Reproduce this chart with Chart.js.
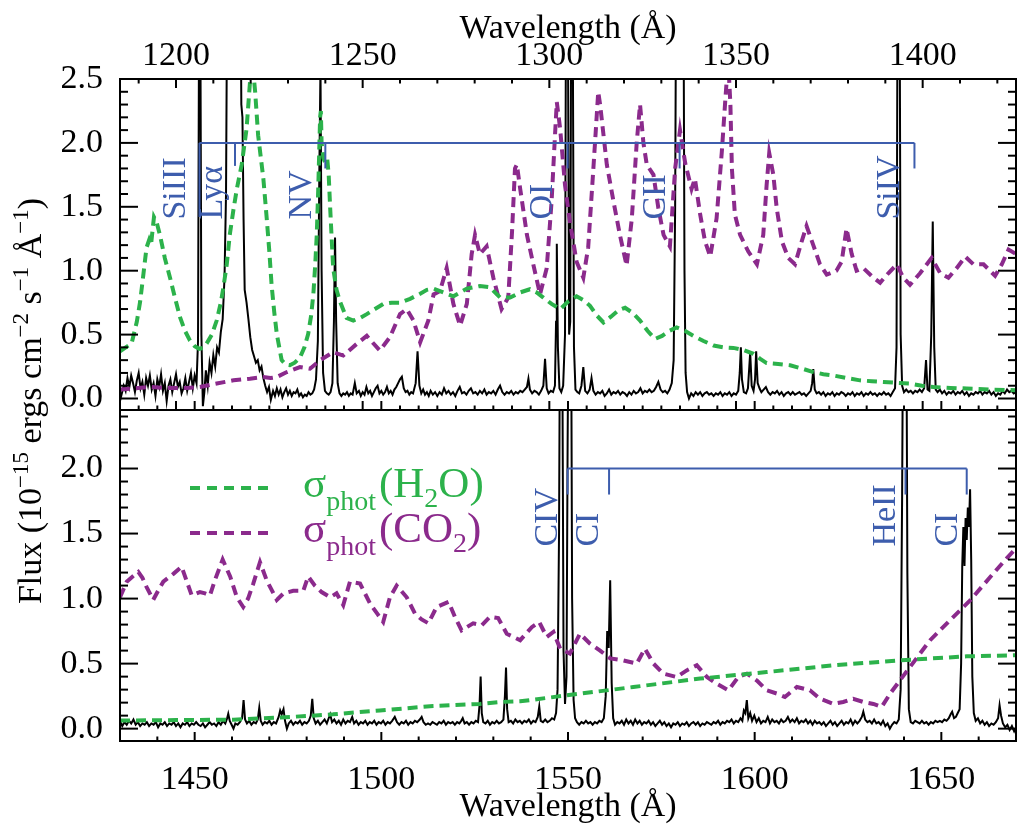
<!DOCTYPE html>
<html><head><meta charset="utf-8">
<script src="https://cdn.jsdelivr.net/npm/chart.js@4"></script>
<style>html,body{margin:0;padding:0;background:#fff;}canvas{display:block;}</style>
</head><body>
<canvas id="c" width="1024" height="836"></canvas>
<script>
// ---------------- DATA ----------------
const topTickLabels = [1200, 1250, 1300, 1350, 1400];
const botTickLabels = [1450, 1500, 1550, 1600, 1650];
const topFluxTicks = [0, 0.5, 1, 1.5, 2, 2.5];
const botFluxTicks = [0, 0.5, 1, 1.5, 2];

// observed flux, upper panel [wavelength, flux]
const topSpectrum = [
[1185.0,-0.02],[1185.5,0.04],[1186.0,0.10],[1186.5,0.06],[1187.0,0.16],[1187.5,0.09],[1188.0,0.18],[1188.5,0.12],[1189.0,0.05],[1189.5,0.14],
[1190.0,0.20],[1190.5,0.08],[1191.0,0.13],[1191.5,0.03],[1192.0,0.16],[1192.5,0.10],[1193.0,0.18],[1193.5,0.07],[1194.0,0.12],[1194.5,0.02],
[1195.0,0.15],[1195.5,0.09],[1196.0,0.19],[1196.5,0.06],[1197.0,0.12],[1197.5,-0.02],[1198.0,0.10],[1198.5,0.15],[1199.0,0.05],[1199.5,0.12],
[1200.0,0.19],[1200.5,0.09],[1201.0,0.13],[1201.5,0.04],[1202.0,0.08],[1202.5,0.16],[1203.0,0.06],[1203.5,0.13],[1204.0,0.20],[1204.5,0.08],
[1205.0,0.18],[1205.5,0.12],[1205.9,0.45],[1206.2,3.2],[1206.5,3.2],[1206.8,0.5],[1207.2,-0.06],[1207.6,0.05],[1208.0,0.22],[1208.5,0.10],
[1209.0,0.28],[1209.5,0.20],[1210.0,0.34],[1210.5,0.25],[1211.0,0.40],[1211.5,0.36],[1212.0,0.52],[1212.5,0.62],[1213.0,0.95],[1213.4,1.6],
[1213.7,3.2],[1217.3,3.2],[1217.5,2.3],[1217.8,2.2],[1218.1,1.4],[1218.4,0.85],[1218.9,0.75],[1219.4,0.62],[1219.9,0.48],[1220.4,0.38],
[1220.9,0.33],[1221.4,0.28],[1221.9,0.30],[1222.4,0.22],[1222.9,0.25],[1223.4,0.16],[1223.9,0.10],[1224.4,0.05],[1224.9,0.09],[1225.4,-0.01],
[1226.0,0.06],[1226.5,0.02],[1227.0,0.08],[1227.5,0.03],[1228.0,0.07],[1228.5,0.01],[1229.0,0.05],[1229.5,0.08],[1230.0,0.03],[1230.5,0.06],
[1231.0,0.02],[1231.5,0.05],[1232.0,0.04],[1232.5,0.07],[1233.0,0.02],[1233.5,0.04],[1234.0,0.01],[1234.5,0.03],[1235.0,0.02],[1235.5,0.05],
[1236.0,0.03],[1236.5,0.04],[1237.0,0.07],[1237.5,0.15],[1238.0,0.45],[1238.4,1.8],[1238.7,2.6],[1239.0,1.0],[1239.4,0.2],[1239.9,0.06],
[1240.4,0.04],[1240.9,0.03],[1241.4,0.05],[1241.9,0.12],[1242.3,0.6],[1242.6,1.26],[1242.9,0.6],[1243.3,0.12],[1243.8,0.04],[1244.3,0.02],
[1244.8,0.04],[1245.3,0.03],[1245.8,0.05],[1246.3,0.02],[1246.8,0.04],[1247.3,0.03],[1247.9,0.12],[1248.4,0.04],[1249.0,0.06],[1249.5,0.02],
[1250.0,0.05],[1250.5,0.03],[1251.0,0.09],[1251.5,0.04],[1252.0,0.06],[1252.5,0.02],[1253.0,0.05],[1253.5,0.08],[1254.0,0.10],[1254.5,0.04],
[1255.0,0.06],[1255.5,0.03],[1256.0,0.05],[1256.5,0.09],[1257.0,0.04],[1257.5,0.06],[1258.0,0.03],[1258.5,0.07],[1259.0,0.09],[1259.5,0.12],
[1260.0,0.15],[1260.5,0.17],[1261.0,0.08],[1261.5,0.05],[1262.0,0.06],[1262.5,0.03],[1263.0,0.05],[1263.5,0.04],[1264.2,0.12],[1264.7,0.37],
[1265.2,0.10],[1265.7,0.04],[1266.2,0.07],[1266.7,0.03],[1267.2,0.05],[1267.7,0.02],[1268.2,0.06],[1268.8,0.03],[1269.4,0.05],[1270.0,0.02],
[1270.6,0.05],[1271.2,0.03],[1271.8,0.08],[1272.4,0.04],[1273.0,0.06],[1273.6,0.03],[1274.2,0.05],[1274.8,0.02],[1275.4,0.06],[1276.0,0.09],
[1276.6,0.04],[1277.2,0.05],[1277.8,0.03],[1278.4,0.06],[1279.0,0.08],[1279.6,0.04],[1280.2,0.05],[1280.8,0.03],[1281.4,0.06],[1282.0,0.04],
[1282.6,0.07],[1283.2,0.03],[1283.8,0.05],[1284.4,0.04],[1285.0,0.06],[1285.6,0.03],[1286.2,0.07],[1286.8,0.10],[1287.4,0.05],[1288.0,0.03],
[1288.6,0.05],[1289.2,0.04],[1289.8,0.06],[1290.4,0.03],[1291.0,0.05],[1291.6,0.04],[1292.2,0.06],[1292.8,0.05],[1293.4,0.07],[1294.0,0.09],
[1294.4,0.155],[1294.8,0.07],[1295.4,0.04],[1296.0,0.06],[1296.6,0.05],[1297.2,0.03],[1297.8,0.06],[1298.4,0.10],[1298.85,0.31],[1299.3,0.08],
[1299.8,0.04],[1300.4,0.06],[1301.0,0.05],[1301.5,0.10],[1301.8,0.6],[1302.0,1.21],[1302.3,0.4],[1302.7,0.08],[1303.2,0.05],[1303.7,0.1],
[1304.2,0.5],[1304.5,3.5],[1304.9,3.5],[1305.3,0.5],[1305.6,0.6],[1305.9,3.5],[1306.2,3.5],[1306.6,0.4],[1307.0,0.07],[1307.5,0.05],
[1308.0,0.04],[1308.6,0.1],[1309.1,0.245],[1309.6,0.06],[1310.2,0.04],[1310.8,0.07],[1311.3,0.16],[1311.8,0.06],[1312.4,0.03],[1313.0,0.05],
[1313.6,0.04],[1314.2,0.06],[1314.8,0.02],[1315.4,0.04],[1316.0,0.07],[1316.6,0.03],[1317.2,0.05],[1317.8,0.04],[1318.4,0.06],[1319.0,0.03],
[1319.6,0.05],[1320.2,0.04],[1320.8,0.02],[1321.4,0.05],[1322.0,0.03],[1322.6,0.06],[1323.2,0.04],[1323.8,0.05],[1324.4,0.08],[1325.0,0.04],
[1325.6,0.06],[1326.2,0.05],[1326.8,0.07],[1327.4,0.05],[1328.0,0.06],[1328.6,0.09],[1329.2,0.13],[1329.8,0.07],[1330.4,0.05],[1331.0,0.06],
[1331.6,0.04],[1332.2,0.07],[1332.8,0.12],[1333.3,0.3],[1333.7,1.5],[1334.0,3.5],[1335.9,3.5],[1336.2,1.0],[1336.5,0.2],[1336.9,0.05],
[1337.4,0.0],[1338.0,0.04],[1338.6,0.02],[1339.2,0.05],[1339.8,0.03],[1340.4,0.05],[1341.0,0.02],[1341.6,0.04],[1342.2,0.05],[1342.8,0.03],
[1343.4,0.04],[1344.0,0.02],[1344.6,0.04],[1345.2,0.03],[1345.8,0.05],[1346.4,0.02],[1347.0,0.04],[1347.6,0.03],[1348.2,0.05],[1348.8,0.02],
[1349.4,0.04],[1350.0,0.03],[1350.6,0.06],[1351.0,0.2],[1351.3,0.40],[1351.6,0.15],[1352.1,0.05],[1352.7,0.04],[1353.2,0.08],[1353.8,0.36],
[1354.2,0.1],[1354.7,0.06],[1355.1,0.15],[1355.4,0.37],[1355.8,0.12],[1356.3,0.08],[1356.8,0.05],[1357.4,0.07],[1358.0,0.09],[1358.6,0.05],
[1359.2,0.03],[1359.8,0.05],[1360.4,0.04],[1361.0,0.06],[1361.6,0.03],[1362.2,0.05],[1362.8,0.02],[1363.4,0.04],[1364.0,0.05],[1364.6,0.03],
[1365.2,0.05],[1365.8,0.03],[1366.4,0.04],[1367.0,0.05],[1367.6,0.03],[1368.2,0.04],[1368.8,0.02],[1369.4,0.04],[1370.0,0.06],[1370.4,0.12],
[1370.7,0.23],[1371.1,0.07],[1371.6,0.04],[1372.2,0.05],[1372.8,0.03],[1373.4,0.05],[1374.0,0.02],[1374.6,0.04],[1375.2,0.03],[1375.8,0.05],
[1376.4,0.02],[1377.0,0.04],[1377.6,0.03],[1378.2,0.05],[1378.8,0.04],[1379.4,0.02],[1380.0,0.04],[1380.6,0.03],[1381.2,0.05],[1381.8,0.02],
[1382.4,0.04],[1383.0,0.03],[1383.6,0.05],[1384.2,0.02],[1384.8,0.04],[1385.4,0.03],[1386.0,0.05],[1386.6,0.03],[1387.2,0.04],[1387.8,0.02],
[1388.4,0.04],[1389.0,0.03],[1389.6,0.05],[1390.2,0.03],[1390.8,0.04],[1391.4,0.02],[1392.0,0.05],[1392.6,0.08],[1393.0,0.4],[1393.3,3.5],
[1393.8,3.5],[1394.1,0.5],[1394.5,0.1],[1395.0,0.05],[1395.6,0.07],[1396.2,0.05],[1396.8,0.06],[1397.4,0.04],[1398.0,0.06],[1398.6,0.05],
[1399.2,0.07],[1399.8,0.05],[1400.4,0.08],[1400.9,0.30],[1401.3,0.07],[1401.8,0.06],[1402.3,0.5],[1402.7,1.385],[1403.1,0.4],[1403.5,0.07],
[1404.0,0.05],[1404.6,0.07],[1405.2,0.04],[1405.8,0.06],[1406.4,0.03],[1407.0,0.05],[1407.6,0.04],[1408.2,0.06],[1408.8,0.03],[1409.4,0.05],
[1410.0,0.04],[1410.6,0.06],[1411.2,0.03],[1411.8,0.05],[1412.4,0.02],[1413.0,0.04],[1413.6,0.03],[1414.2,0.05],[1414.8,0.04],[1415.4,0.06],
[1416.0,0.03],[1416.6,0.05],[1417.2,0.04],[1417.8,0.06],[1418.4,0.03],[1419.0,0.05],[1419.6,0.02],[1420.2,0.04],[1420.8,0.03],[1421.4,0.06],
[1422.0,0.04],[1422.6,0.07],[1423.2,0.05],[1423.8,0.06],[1424.4,0.04],[1425.0,0.05]
];

// H2O photo cross-section (scaled), upper panel
const topH2O = [
[1185,0.37],[1188.1,0.43],[1189.5,0.6],[1190.4,0.76],[1191.3,0.98],[1192.1,1.18],[1192.8,1.24],[1193.3,1.2],[1194.1,1.42],[1194.8,1.38],
[1195.7,1.28],[1197.0,1.1],[1198.4,0.945],[1199.8,0.78],[1201.1,0.634],[1202.4,0.53],[1203.75,0.453],[1205.0,0.41],[1206.2,0.389],[1207.2,0.395],
[1208.2,0.43],[1209.6,0.5],[1210.9,0.61],[1212.0,0.75],[1212.7,0.87],[1213.6,1.05],[1214.4,1.28],[1215.4,1.48],[1216.3,1.64],[1217.6,1.83],
[1218.9,2.11],[1219.8,2.47],[1220.5,2.62],[1221.2,2.4],[1222.0,2.06],[1223.4,1.72],[1224.3,1.41],[1225.0,1.15],[1225.6,0.89],[1226.3,0.68],
[1227.0,0.505],[1228.3,0.3],[1229.4,0.265],[1230.5,0.26],[1231.8,0.28],[1233.2,0.32],[1234.4,0.4],[1235.4,0.505],[1236.2,0.65],[1236.8,0.82],
[1237.3,1.05],[1237.7,1.28],[1238.1,1.64],[1238.6,2.2],[1238.8,2.25],[1239.0,2.0],[1239.5,1.88],[1239.9,1.85],[1240.5,1.88],[1240.9,1.75],
[1241.3,1.49],[1241.7,1.25],[1242.1,1.02],[1243.0,0.85],[1243.9,0.76],[1245.7,0.63],[1247.5,0.61],[1249.3,0.63],[1251.1,0.66],[1253.3,0.7],
[1255.5,0.74],[1257.8,0.75],[1260.0,0.75],[1262.7,0.78],[1265.4,0.82],[1267.2,0.85],[1269.0,0.86],[1271.6,0.83],[1274.3,0.80],[1276.1,0.83],
[1277.9,0.86],[1281.4,0.88],[1284.1,0.87],[1286.8,0.79],[1289.5,0.79],[1292.2,0.83],[1294.8,0.855],[1296.6,0.83],[1298.4,0.79],[1300.6,0.74],
[1302.9,0.70],[1305.1,0.76],[1307.3,0.80],[1309.1,0.77],[1310.9,0.725],[1312.7,0.65],[1314.5,0.595],[1316.5,0.64],[1318.5,0.69],[1320.3,0.71],
[1322.3,0.67],[1324.3,0.61],[1326.3,0.53],[1328.3,0.466],[1330.2,0.49],[1332.2,0.53],[1334.1,0.556],[1336.3,0.53],[1338.6,0.49],[1341.3,0.45],
[1344.0,0.414],[1346.7,0.40],[1349.3,0.396],[1352.0,0.38],[1354.7,0.35],[1356.5,0.31],[1358.2,0.277],[1361.3,0.27],[1364.5,0.26],[1367.6,0.235],
[1370.7,0.207],[1373.4,0.19],[1376.1,0.18],[1379.6,0.16],[1383.2,0.142],[1386.4,0.135],[1389.5,0.129],[1393.0,0.123],[1396.6,0.117],[1399.8,0.10],
[1402.9,0.09],[1407.4,0.083],[1411.8,0.078],[1418.4,0.07],[1425,0.065]
];

// CO2 photo cross-section (scaled), upper panel
const topCO2 = [
[1185,0.07],[1188.6,0.078],[1193,0.09],[1197.5,0.082],[1202.8,0.082],[1206.4,0.09],[1210.9,0.117],[1215.4,0.142],[1219.8,0.155],[1223.4,0.168],
[1225.3,0.16],[1227.0,0.168],[1229.7,0.207],[1233.2,0.246],[1235.9,0.233],[1238.6,0.30],[1242.1,0.362],[1244.8,0.336],[1248.4,0.427],[1251.1,0.49],
[1252.9,0.43],[1254.6,0.375],[1257.3,0.48],[1260.0,0.66],[1261.8,0.70],[1263.6,0.61],[1265.4,0.44],[1267.6,0.61],[1269.0,0.815],[1270.7,0.84],
[1272.5,1.02],[1274.3,0.74],[1276.1,0.57],[1277.9,0.74],[1279.2,1.13],[1280.1,1.28],[1281.4,1.13],[1283.2,1.19],[1285.0,0.945],[1287.2,0.70],
[1289.0,0.79],[1290.0,1.3],[1290.8,1.80],[1291.3,1.83],[1292.2,1.64],[1294.0,1.28],[1295.7,1.05],[1297.5,0.815],[1299.3,1.02],[1300.6,1.54],
[1301.5,2.05],[1302.0,2.32],[1302.9,2.11],[1304.2,1.67],[1305.5,1.385],[1307.3,1.07],[1309.1,0.945],[1310.4,1.18],[1311.8,1.80],[1313.1,2.40],
[1313.6,2.30],[1315.4,1.83],[1317.2,1.54],[1318.9,1.28],[1320.7,1.04],[1322.1,1.41],[1323.4,2.0],[1324.3,2.30],[1325.2,2.0],[1326.1,1.83],
[1327.9,1.75],[1329.2,1.49],[1330.6,1.28],[1332.3,1.19],[1333.7,1.80],[1335.0,2.10],[1336.4,1.84],[1338.1,1.64],[1339.0,1.72],[1340.4,1.44],
[1341.7,1.23],[1343.1,1.11],[1344.8,1.41],[1346.2,1.93],[1347.1,2.32],[1347.9,2.65],[1348.5,2.3],[1348.9,1.80],[1349.7,1.44],[1351.1,1.28],
[1353.3,1.15],[1355.6,1.05],[1357.3,1.28],[1358.2,1.67],[1358.9,1.92],[1360.0,1.75],[1360.9,1.49],[1362.3,1.23],[1364.0,1.10],[1365.8,1.05],
[1367.6,1.23],[1368.9,1.35],[1370.7,1.20],[1372.5,1.05],[1374.3,0.97],[1376.9,1.0],[1378.3,1.07],[1379.6,1.33],[1381.0,1.13],[1382.3,1.0],
[1384.1,1.02],[1386.8,0.945],[1388.6,0.906],[1390.8,0.98],[1393.1,1.05],[1394.8,0.945],[1396.6,0.89],[1399.3,0.98],[1402.4,1.10],[1404.7,0.98],
[1406.9,0.945],[1409.1,1.02],[1411.4,1.11],[1413.6,1.05],[1416.3,1.05],[1419.4,0.96],[1421.2,1.05],[1423.0,1.165],[1425,1.13]
];

// observed flux, lower panel
const botSpectrum = [
[1430.0,0.06],[1430.6,0.02],[1431.2,0.05],[1431.8,0.03],[1432.4,0.06],[1433.0,0.04],[1433.6,0.07],[1434.2,0.03],[1434.8,0.05],[1435.4,0.02],
[1436.0,0.04],[1436.6,0.03],[1437.2,0.05],[1437.8,0.02],[1438.4,0.04],[1439.0,0.03],[1439.6,0.05],[1440.2,0.01],[1440.8,0.04],[1441.4,0.03],
[1442.0,0.05],[1442.6,0.02],[1443.2,0.04],[1443.8,0.03],[1444.4,0.05],[1445.0,0.02],[1445.6,0.04],[1446.2,0.01],[1446.8,0.04],[1447.4,0.03],
[1448.0,0.05],[1448.6,0.02],[1449.2,0.04],[1449.8,0.03],[1450.4,0.05],[1451.0,0.03],[1451.6,0.02],[1452.2,0.04],[1452.8,0.01],[1453.4,0.03],
[1454.0,0.05],[1454.6,0.03],[1455.2,0.04],[1455.8,0.02],[1456.4,0.05],[1457.0,0.03],[1457.6,0.06],[1458.2,0.04],[1458.7,0.08],[1459.0,0.115],
[1459.4,0.06],[1459.9,0.03],[1460.4,0.0],[1460.9,0.04],[1461.5,0.03],[1462.1,0.05],[1462.7,0.08],[1463.1,0.22],[1463.5,0.07],[1464.0,0.04],
[1464.6,0.06],[1465.2,0.03],[1465.8,0.05],[1466.4,0.04],[1466.9,0.07],[1467.3,0.16],[1467.7,0.06],[1468.2,0.03],[1468.8,0.05],[1469.4,0.04],
[1470.0,0.06],[1470.6,0.03],[1471.2,0.05],[1471.8,0.04],[1472.5,0.09],[1472.9,0.14],[1473.3,0.11],[1473.8,0.15],[1474.2,0.06],[1474.7,0.0],
[1475.2,0.04],[1475.8,0.06],[1476.4,0.03],[1477.0,0.05],[1477.6,0.04],[1478.2,0.06],[1478.8,0.03],[1479.4,0.05],[1480.0,0.04],[1480.6,0.06],
[1481.1,0.10],[1481.5,0.23],[1481.9,0.08],[1482.4,0.04],[1483.0,0.06],[1483.6,0.03],[1484.2,0.05],[1484.8,0.07],[1485.4,0.04],[1485.9,0.08],
[1486.3,0.11],[1486.8,0.05],[1487.4,0.07],[1488.0,0.04],[1488.6,0.06],[1489.2,0.03],[1489.8,0.07],[1490.4,0.04],[1491.0,0.06],[1491.6,0.05],
[1492.2,0.09],[1492.7,0.04],[1493.3,0.06],[1493.9,0.03],[1494.5,0.05],[1495.1,0.04],[1495.7,0.06],[1496.3,0.03],[1496.9,0.05],[1497.5,0.04],
[1498.1,0.06],[1498.7,0.03],[1499.3,0.05],[1499.9,0.04],[1500.5,0.06],[1501.1,0.03],[1501.7,0.05],[1502.3,0.04],[1502.9,0.06],[1503.6,0.09],
[1504.2,0.05],[1504.8,0.03],[1505.4,0.05],[1506.0,0.04],[1506.6,0.06],[1507.2,0.03],[1507.8,0.05],[1508.4,0.04],[1509.0,0.06],[1509.6,0.05],
[1510.3,0.07],[1510.8,0.09],[1511.3,0.05],[1511.9,0.03],[1512.5,0.04],[1513.1,0.03],[1513.7,0.05],[1514.3,0.04],[1514.9,0.03],[1515.5,0.05],
[1516.1,0.04],[1516.7,0.06],[1517.3,0.03],[1517.9,0.05],[1518.5,0.04],[1519.1,0.05],[1519.7,0.03],[1520.3,0.05],[1520.9,0.04],[1521.4,0.06],
[1521.8,0.08],[1522.3,0.04],[1522.9,0.05],[1523.5,0.03],[1524.1,0.05],[1524.7,0.04],[1525.3,0.06],[1525.9,0.05],[1526.3,0.18],[1526.6,0.40],
[1526.9,0.12],[1527.3,0.05],[1527.9,0.04],[1528.5,0.06],[1529.1,0.03],[1529.7,0.05],[1530.3,0.04],[1530.9,0.06],[1531.5,0.04],[1532.1,0.05],
[1532.7,0.07],[1533.1,0.25],[1533.4,0.47],[1533.7,0.15],[1534.1,0.05],[1534.7,0.06],[1535.3,0.04],[1535.9,0.07],[1536.5,0.05],[1537.1,0.06],
[1537.7,0.04],[1538.3,0.06],[1538.9,0.05],[1539.5,0.07],[1540.1,0.04],[1540.7,0.06],[1541.3,0.05],[1541.9,0.09],[1542.3,0.17],[1542.7,0.06],
[1543.3,0.05],[1543.9,0.07],[1544.5,0.05],[1545.1,0.06],[1545.7,0.08],[1546.3,0.07],[1546.8,0.12],[1547.2,0.3],[1547.6,1.5],[1547.9,3.5],
[1548.4,3.5],[1548.8,0.6],[1549.2,0.19],[1549.6,0.4],[1549.9,2.2],[1550.2,3.5],[1550.8,3.5],[1551.1,1.0],[1551.5,0.22],[1551.9,0.08],
[1552.4,0.05],[1553.0,0.03],[1553.6,0.05],[1554.2,0.04],[1554.8,0.06],[1555.4,0.04],[1556.0,0.05],[1556.6,0.03],[1557.2,0.05],[1557.8,0.04],
[1558.4,0.06],[1559.0,0.05],[1559.6,0.08],[1560.1,0.25],[1560.5,0.75],[1560.9,0.62],[1561.3,1.14],[1561.7,0.35],[1562.1,0.08],[1562.6,0.03],
[1563.2,0.05],[1563.8,0.04],[1564.4,0.06],[1565.0,0.03],[1565.6,0.07],[1566.2,0.04],[1566.8,0.06],[1567.4,0.03],[1568.0,0.07],[1568.6,0.04],
[1569.2,0.06],[1569.8,0.03],[1570.4,0.05],[1571.0,0.04],[1571.6,0.06],[1572.2,0.03],[1572.8,0.05],[1573.4,0.02],[1574.0,0.04],[1574.6,0.06],
[1575.2,0.03],[1575.8,0.05],[1576.4,0.02],[1577.0,0.04],[1577.6,0.01],[1578.2,0.04],[1578.8,0.03],[1579.4,0.05],[1580.0,0.02],[1580.6,0.04],
[1581.2,0.03],[1581.8,0.05],[1582.4,0.02],[1583.0,0.04],[1583.6,0.05],[1584.2,0.03],[1584.8,0.05],[1585.4,0.02],[1586.0,0.04],[1586.6,0.03],
[1587.2,0.05],[1587.8,0.04],[1588.4,0.03],[1589.0,0.05],[1589.6,0.04],[1590.2,0.06],[1590.8,0.03],[1591.4,0.05],[1592.0,0.04],[1592.6,0.06],
[1593.2,0.05],[1593.8,0.07],[1594.4,0.04],[1595.0,0.06],[1595.6,0.05],[1596.2,0.08],[1596.7,0.06],[1597.1,0.14],[1597.5,0.12],[1597.9,0.22],
[1598.3,0.08],[1598.8,0.12],[1599.3,0.06],[1599.9,0.10],[1600.5,0.05],[1601.1,0.08],[1601.7,0.04],[1602.3,0.06],[1602.9,0.05],[1603.5,0.09],
[1604.1,0.04],[1604.7,0.07],[1605.3,0.05],[1605.9,0.06],[1606.5,0.04],[1607.1,0.07],[1607.7,0.05],[1608.3,0.06],[1608.9,0.09],[1609.5,0.05],
[1610.1,0.07],[1610.7,0.05],[1611.3,0.08],[1611.9,0.04],[1612.5,0.06],[1613.1,0.05],[1613.7,0.07],[1614.3,0.04],[1614.9,0.06],[1615.5,0.03],
[1616.1,0.06],[1616.7,0.04],[1617.3,0.05],[1617.9,0.03],[1618.5,0.05],[1619.1,0.02],[1619.7,0.04],[1620.3,0.06],[1620.9,0.03],[1621.5,0.05],
[1622.1,0.02],[1622.7,0.04],[1623.3,0.06],[1623.9,0.03],[1624.5,0.05],[1625.1,0.04],[1625.7,0.07],[1626.3,0.03],[1626.9,0.06],[1627.5,0.04],
[1628.1,0.06],[1628.7,0.09],[1629.1,0.13],[1629.6,0.07],[1630.2,0.05],[1630.8,0.06],[1631.4,0.04],[1632.0,0.07],[1632.6,0.04],[1633.2,0.05],
[1633.8,0.03],[1634.4,0.06],[1635.0,0.02],[1635.6,0.04],[1636.2,0.0],[1636.8,0.03],[1637.4,0.05],[1638.0,0.04],[1638.6,0.07],[1639.1,0.3],
[1639.5,1.8],[1639.8,3.5],[1640.6,3.5],[1640.9,1.2],[1641.3,0.15],[1641.8,0.05],[1642.4,0.04],[1643.0,0.06],[1643.6,0.05],[1644.2,0.04],
[1644.8,0.06],[1645.4,0.04],[1646.0,0.05],[1646.6,0.03],[1647.2,0.05],[1647.8,0.04],[1648.4,0.06],[1649.0,0.05],[1649.6,0.06],[1650.2,0.05],
[1650.8,0.07],[1651.4,0.06],[1652.0,0.08],[1652.5,0.11],[1652.9,0.13],[1653.4,0.08],[1653.9,0.09],[1654.4,0.12],[1654.9,0.15],[1655.3,0.5],
[1655.6,1.25],[1655.9,1.55],[1656.2,1.25],[1656.5,1.62],[1656.8,1.45],[1657.1,1.7],[1657.4,1.55],[1657.7,1.84],[1658.0,1.3],[1658.3,0.4],
[1658.7,0.12],[1659.2,0.06],[1659.8,0.08],[1660.4,0.04],[1661.0,0.06],[1661.6,0.03],[1662.2,0.05],[1662.8,0.02],[1663.4,0.04],[1664.0,0.03],
[1664.6,0.05],[1665.2,0.08],[1665.6,0.18],[1666.0,0.1],[1666.5,0.04],[1667.1,0.01],[1667.7,0.03],[1668.3,-0.01],[1668.9,0.02],[1669.5,-0.02],[1670.0,0.01]
];

const botH2O = [
[1430,0.062],[1445,0.066],[1460.4,0.069],[1472.9,0.085],[1487.1,0.11],[1499.6,0.14],[1513.9,0.174],[1526.4,0.19],[1531.8,0.205],[1537.2,0.21],
[1549.7,0.256],[1567.5,0.32],[1585.4,0.385],[1603.2,0.435],[1621.1,0.487],[1638.9,0.525],[1656.8,0.556],[1670,0.564]
];

const botCO2 = [
[1430,1.01],[1431.8,1.13],[1433.4,1.17],[1434.9,1.205],[1436.0,1.16],[1437.1,1.09],[1438.9,0.99],[1440.2,1.06],[1441.6,1.13],[1444.3,1.19],
[1446.5,1.245],[1447.8,1.14],[1449.2,1.025],[1451.4,1.05],[1452.8,1.04],[1454.1,1.025],[1455.4,1.14],[1457.5,1.30],[1459.5,1.17],[1461.3,1.01],
[1463.0,0.935],[1464.3,1.0],[1465.7,1.115],[1467.5,1.28],[1469.3,1.14],[1472.0,0.99],[1473.8,1.04],[1476.4,1.06],[1479.1,1.06],[1480.4,1.17],
[1482.2,1.10],[1484.0,1.05],[1486.3,1.01],[1488.0,1.04],[1489.8,0.95],[1491.6,1.13],[1494.3,1.115],[1497.0,0.96],[1499.0,0.88],[1500.5,0.82],
[1502.3,1.01],[1504.1,1.10],[1506.8,1.01],[1509.0,0.885],[1510.8,0.84],[1512.6,0.81],[1514.8,0.935],[1518.0,0.975],[1519.7,0.86],[1521.5,0.756],
[1524.6,0.81],[1526.9,0.795],[1529.1,0.86],[1531.3,0.85],[1533.6,0.73],[1537.2,0.68],[1540.3,0.78],[1542.3,0.82],[1544.3,0.705],[1546.1,0.743],
[1547.9,0.615],[1550.5,0.577],[1553.2,0.73],[1555.9,0.654],[1558.6,0.60],[1561.3,0.54],[1564.8,0.525],[1568.4,0.50],[1570.6,0.615],[1572.9,0.50],
[1575.5,0.423],[1579.1,0.397],[1581.8,0.448],[1584.5,0.487],[1587.2,0.397],[1589.8,0.346],[1593.0,0.295],[1595.6,0.397],[1597.9,0.423],[1600.6,0.37],
[1603.2,0.295],[1605.9,0.27],[1608.1,0.243],[1611.3,0.32],[1614.8,0.295],[1617.5,0.23],[1621.1,0.19],[1623.7,0.205],[1626.4,0.23],[1629.1,0.205],
[1631.8,0.19],[1634.0,0.166],[1636.3,0.27],[1638.9,0.37],[1641.6,0.474],[1647.0,0.68],[1652.3,0.833],[1657.7,0.986],[1663.1,1.166],[1667.5,1.31],[1670,1.385]
];

// line identifications: [label, label wavelength, marker wavelength, marker bottom]
const topLineIds = [["SiIII",1202.4,1206.3,1.42],["Lyα",1212.3,1215.8,1.82],["NV",1236.2,1240.0,1.8],["OI",1300.7,1304.9,1.8],["CII",1331.0,1334.9,1.8],["SiIV",1393.7,1397.8,1.8]];
const botLineIds = [["CIV",1547.1,1549.9,1.8],["CI",1558.0,1561.0,1.8],["HeII",1637.6,1640.4,1.8],["CI",1654.2,1656.8,1.8]];
const bracketLevel = 2.0;
const labelBase = 1.4;

// ---------------- STYLE ----------------
const FONT = "'Liberation Serif', 'Times New Roman', serif";
const GREEN = '#2cb24b', PURPLE = '#8b2a8c', BLUE = '#3d5dad';

const pts = a => a.map(p => ({x: p[0], y: p[1]}));
const lineDs = (label, data, xa, ya, color, width, dash) => ({
  label, data: pts(data), xAxisID: xa, yAxisID: ya, borderColor: color, borderWidth: width,
  borderDash: dash, pointRadius: 0, tension: 0, fill: false, clip: false, borderCapStyle: 'butt', borderJoinStyle: 'miter'
});

const datasets = [
  lineDs('σphot(H2O)', topH2O, 'xTop', 'yTop', GREEN, 4, [10, 6]),
  lineDs('σphot(CO2)', topCO2, 'xTop', 'yTop', PURPLE, 4, [10, 6]),
  lineDs('Flux', topSpectrum, 'xTop', 'yTop', '#000', 2, []),
  lineDs('σphot(H2O)', botH2O, 'xBot', 'yBot', GREEN, 4, [10, 6]),
  lineDs('σphot(CO2)', botCO2, 'xBot', 'yBot', PURPLE, 4, [10, 6]),
  lineDs('Flux', botSpectrum, 'xBot', 'yBot', '#000', 2, [])
];

const tickFont = {family: FONT, size: 34};
const xScale = (pos, min, max, labels, pad, titlePad, h) => ({
  type: 'linear', position: pos, min, max,
  afterBuildTicks: s => { s.ticks = labels.map(v => ({value: v})); },
  afterFit: s => { s.height = h; },
  ticks: {font: tickFont, color: '#000', padding: pad, maxRotation: 0, autoSkip: false, callback: v => String(v)},
  grid: {display: false}, border: {display: false},
  title: {display: true, text: 'Wavelength (Å)', font: tickFont, color: '#000', padding: titlePad}
});
const yScale = (min, max, labels) => ({
  type: 'linear', position: 'left', stack: 'flux', stackWeight: 1, min, max,
  afterBuildTicks: s => { s.ticks = labels.map(v => ({value: v})); },
  afterFit: s => { s.width = 120; },
  ticks: {font: tickFont, color: '#000', padding: 9, autoSkip: false, callback: v => Number(v).toFixed(1)},
  grid: {display: false}, border: {display: false}
});

// clip every dataset to its own panel
const panelClip = {
  id: 'panelClip',
  beforeDatasetDraw(chart, args) {
    const m = args.meta, xs = chart.scales[m.xAxisID], ys = chart.scales[m.yAxisID];
    const ctx = chart.ctx; ctx.save(); ctx.beginPath();
    ctx.rect(xs.left, ys.top, xs.right - xs.left, ys.bottom - ys.top); ctx.clip();
  },
  afterDatasetDraw(chart) { chart.ctx.restore(); }
};

function seg(ctx, x1, y1, x2, y2) { ctx.beginPath(); ctx.moveTo(x1, y1); ctx.lineTo(x2, y2); ctx.stroke(); }

const decor = {
  id: 'decor',
  afterDatasetsDraw(chart) {
    const ctx = chart.ctx, S = chart.scales;
    const panels = [[S.xTop, S.yTop], [S.xBot, S.yBot]];
    ctx.save();
    ctx.strokeStyle = '#000'; ctx.lineWidth = 2; ctx.setLineDash([]);
    panels.forEach(([xs, ys], pi) => {
      const L = xs.left, R = xs.right, T = ys.top, B = ys.bottom;
      ctx.strokeRect(L, T, R - L, B - T);
      for (let k = Math.ceil(ys.min * 10); k <= Math.floor(ys.max * 10 + 1e-6); k++) {
        const y = ys.getPixelForValue(k / 10), len = (k % 5 === 0) ? 18 : 8;
        seg(ctx, L, y, L + len, y); seg(ctx, R, y, R - len, y);
      }
      for (let k = Math.ceil(xs.min / 10); k <= Math.floor(xs.max / 10); k++) {
        const x = xs.getPixelForValue(k * 10), len = (k % 5 === 0) ? 9 : 4.5;
        if (pi === 0) { seg(ctx, x, T, x, T + len); seg(ctx, x, B, x, B - len); }
        else { seg(ctx, x, B, x, B - len); seg(ctx, x, T, x, T - len); }
      }
    });
    // line identification brackets and labels
    ctx.strokeStyle = BLUE; ctx.fillStyle = BLUE; ctx.lineWidth = 2;
    ctx.font = "34px " + FONT; ctx.textAlign = 'left'; ctx.textBaseline = 'alphabetic';
    [[S.xTop, S.yTop, topLineIds], [S.xBot, S.yBot, botLineIds]].forEach(([xs, ys, ids]) => {
      const yb = ys.getPixelForValue(bracketLevel);
      seg(ctx, xs.getPixelForValue(ids[0][2]), yb, xs.getPixelForValue(ids[ids.length - 1][2]), yb);
      ids.forEach(([lab, lx, mx, mb]) => {
        const x = xs.getPixelForValue(mx);
        seg(ctx, x, yb, x, ys.getPixelForValue(mb));
        ctx.save();
        ctx.translate(xs.getPixelForValue(lx), ys.getPixelForValue(labelBase));
        ctx.rotate(-Math.PI / 2);
        ctx.fillText(lab, 0, 0);
        ctx.restore();
      });
    });
    // legend inside lower panel
    const xb = S.xBot, yb2 = S.yBot;
    const lx0 = xb.left + 70, lx1 = xb.left + 155, tx = xb.left + 183;
    const rows = [[GREEN, [['σ', 0], ['phot', 1], ['(H', 0], ['2', 2], ['O)', 0]]],
                  [PURPLE, [['σ', 0], ['phot', 1], ['(CO', 0], ['2', 2], [')', 0]]]];
    rows.forEach(([col, parts], i) => {
      const ly = yb2.top + 78 + i * 45;
      ctx.strokeStyle = col; ctx.lineWidth = 4; ctx.setLineDash([10, 7]);
      seg(ctx, lx0, ly, lx1, ly);
      ctx.setLineDash([]);
      ctx.fillStyle = col;
      let x = tx;
      const base = ly + 9;
      parts.forEach(([t, kind]) => {
        ctx.font = (kind === 0 ? "43px " : "28px ") + FONT;
        const dy = kind === 1 ? 13 : (kind === 2 ? 10 : 0);
        ctx.fillText(t, x, base + dy);
        x += ctx.measureText(t).width + (kind === 1 ? 3 : 0);
      });
    });
    // y-axis title with superscripts
    const ttl = [['Flux (10', 0], ['−15', 1], [' ergs cm', 0], ['−2', 1], [' s', 0], ['−1', 1], [' Å', 0], ['−1', 1], [')', 0]];
    ctx.fillStyle = '#000';
    let W = 0;
    ttl.forEach(([t, s]) => { ctx.font = (s ? "23px " : "34px ") + FONT; W += ctx.measureText(t).width; });
    const cy = (S.yTop.top + S.yBot.bottom) / 2 - 9;
    ctx.translate(41, cy); ctx.rotate(-Math.PI / 2);
    let x = -W / 2;
    ttl.forEach(([t, s]) => {
      ctx.font = (s ? "23px " : "34px ") + FONT;
      ctx.fillText(t, x, s ? -13 : 0);
      x += ctx.measureText(t).width;
    });
    ctx.restore();
  }
};

new Chart(document.getElementById('c'), {
  type: 'line',
  data: {datasets},
  options: {
    responsive: false, animation: false, events: [],
    layout: {padding: {left: 0, right: 8, top: 0, bottom: 0}},
    plugins: {legend: {display: false}, tooltip: {enabled: false}, title: {display: false}},
    scales: {
      xTop: xScale('top', 1185, 1425, topTickLabels, -5, {top: 9, bottom: 0}, 79),
      xBot: xScale('bottom', 1430, 1670, botTickLabels, 11, {top: 0, bottom: 9}, 95),
      yBot: yScale(-0.095, 2.45, botFluxTicks),
      yTop: yScale(-0.09, 2.5, topFluxTicks)
    }
  },
  plugins: [panelClip, decor]
});
</script>
</body></html>
